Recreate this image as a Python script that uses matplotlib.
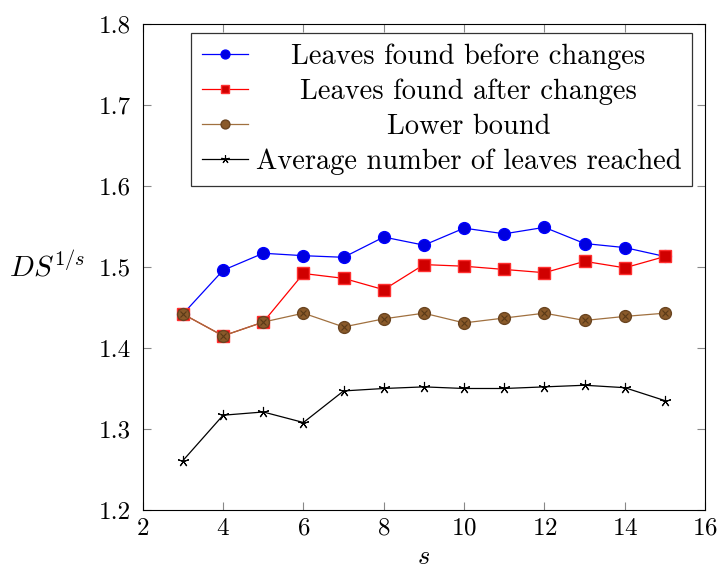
import numpy as np
import matplotlib.pyplot as plt
import matplotlib.transforms as mtransforms

plt.rcParams['font.family'] = ['cmr10', 'DejaVu Serif']
plt.rcParams['mathtext.fontset'] = 'cm'
plt.rcParams['axes.formatter.use_mathtext'] = True

# data
s = [3, 4, 5, 6, 7, 8, 9, 10, 11, 12, 13, 14, 15]
antes = [1.442, 1.496, 1.517, 1.514, 1.512, 1.537, 1.527, 1.548, 1.541, 1.549, 1.529, 1.524, 1.513]
despues = [1.442, 1.415, 1.432, 1.492, 1.486, 1.472, 1.503, 1.501, 1.497, 1.493, 1.507, 1.499, 1.513]
cota = [1.442, 1.415, 1.432, 1.443, 1.426, 1.436, 1.443, 1.431, 1.437, 1.443, 1.434, 1.439, 1.443]
media = [1.261, 1.317, 1.321, 1.308, 1.347, 1.350, 1.352, 1.350, 1.350, 1.352, 1.354, 1.351, 1.335]

etiquetas = ['Leaves found before changes', 'Leaves found after changes',
             'Lower bound', 'Average number of leaves reached']

fig = plt.figure(figsize=(7.21, 5.73), dpi=100)
ax = fig.add_axes([0.198, 0.110, 0.780, 0.848])

ax.plot(s, antes, '-', color='blue', lw=0.9, marker='o', ms=8.5,
        mfc='#0000e0', mec='blue', label=etiquetas[0])
ax.plot(s, despues, '-', color='red', lw=0.9, marker='s', ms=8.5,
        mfc='#d00000', mec='#ff3030', label=etiquetas[1])
marron = '#a0703f'
ax.plot(s, cota, '-', color=marron, lw=0.9, marker='o', ms=8.5,
        mfc='#8a5a2a', mec='#6a4420', label=etiquetas[2])
# la cruz dentro de los circulos (otimes)
ax.plot(s, cota, ' ', marker='x', ms=5, mew=0.8, color='#5a3a18')
ax.plot(s, media, '-', color='black', lw=0.9, marker=(5, 2, 0), ms=8,
        mew=0.8, label=etiquetas[3])

ax.set_xlim(2, 16)
ax.set_ylim(1.2, 1.8)
ax.set_xticks(np.arange(2, 17, 2))
ax.set_yticks(np.arange(1.2, 1.81, 0.1))
ax.set_yticklabels(['1.2', '1.3', '1.4', '1.5', '1.6', '1.7', '1.8'])
ax.tick_params(direction='in', top=True, right=True, length=6, width=0.8,
               color='#888888', labelsize=18)
ax.tick_params(axis='x', pad=5.5)
ax.tick_params(axis='y', pad=8.5)

ax.set_xlabel('$s$', fontsize=19, labelpad=4)
ax.set_ylabel('$DS^{1/s}$', fontsize=21, rotation=0, ha='center', va='center')
ax.yaxis.set_label_coords(-0.169, 0.5)

leg = ax.legend(loc='upper right', bbox_to_anchor=(0.977, 0.9815), fontsize=20.5,
                frameon=True, fancybox=False, edgecolor='black',
                borderpad=0.38, labelspacing=0.3, handlelength=1.6,
                handletextpad=0.28, borderaxespad=0.0, markerscale=0.75)
leg.get_frame().set_linewidth(0.9)

# centrar los textos de la leyenda como en pgfplots
fig.canvas.draw()
textos = leg.get_texts()
anchos = [t.get_window_extent().width for t in textos]
maximo = max(anchos)
for t, w in zip(textos, anchos):
    dx = (maximo - w) / 2
    t.set_transform(t.get_transform() + mtransforms.Affine2D().translate(dx, 0))

plt.savefig('out.png', dpi=100)
